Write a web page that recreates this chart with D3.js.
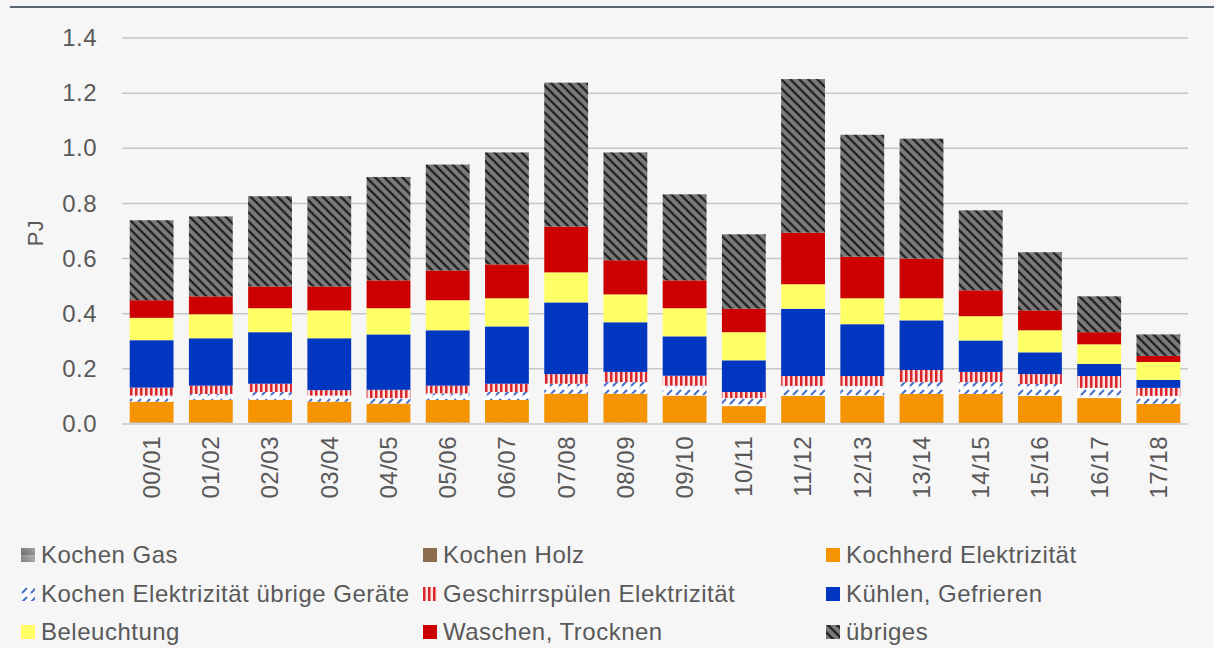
<!DOCTYPE html>
<html>
<head>
<meta charset="utf-8">
<script src="https://cdn.jsdelivr.net/npm/d3@7"></script>
<style>
  body { margin: 0; background: #f6f6f6; }
  text { font-family: "Liberation Sans", Arial, sans-serif; fill: #595959; letter-spacing: 0.5px; }
</style>
</head>
<body>
<div id="container"></div>
<script>
// Energieverbrauch Haushalt nach Verwendungszweck, PJ

var years = ['00/01','01/02','02/03','03/04','04/05','05/06','06/07','07/08','08/09',
             '09/10','10/11','11/12','12/13','13/14','14/15','15/16','16/17','17/18'];

var kochenGas      = [.006,.006,.006,.006,.006,.006,.006,.006,.006,0,0,0,0,0,0,0,0,0];
var kochenHolz     = [0,0,0,0,0,0,0,0,0,.006,0,.006,.006,.006,.006,.006,.006,0];
var kochherd       = [.075,.082,.082,.075,.068,.081,.081,.104,.104,.097,.065,.096,.096,.103,.103,.096,.088,.073];
var kochenUebrige  = [.022,.021,.028,.022,.020,.024,.029,.036,.042,.036,.029,.036,.036,.043,.043,.043,.037,.029];
var geschirr       = [.029,.030,.030,.020,.030,.028,.030,.035,.037,.036,.022,.036,.036,.044,.037,.036,.043,.029];
var kuehlen        = [.172,.172,.187,.188,.201,.201,.208,.260,.180,.143,.115,.244,.188,.180,.114,.079,.044,.029];
var beleuchtung    = [.081,.087,.087,.101,.095,.109,.102,.109,.101,.102,.102,.089,.094,.080,.088,.080,.071,.065];
var waschen        = [.064,.065,.079,.087,.101,.108,.123,.166,.124,.101,.085,.187,.151,.144,.094,.072,.044,.022];
var uebriges       = [.290,.290,.327,.327,.375,.384,.406,.522,.391,.312,.270,.557,.442,.435,.290,.211,.130,.078];

var yTicks = [0, 0.2, 0.4, 0.6, 0.8, 1.0, 1.2, 1.4];

var series = [
  {key: 'gas',   name: 'Kochen Gas',                          values: kochenGas,     fill: 'url(#gas)'},
  {key: 'holz',  name: 'Kochen Holz',                         values: kochenHolz,    fill: '#8c6c4c'},
  {key: 'herd',  name: 'Kochherd Elektrizität',               values: kochherd,      fill: '#f59300'},
  {key: 'kueb',  name: 'Kochen Elektrizität übrige Geräte',   values: kochenUebrige, fill: 'url(#hatchBlue)'},
  {key: 'gesch', name: 'Geschirrspülen Elektrizität',         values: geschirr,      fill: 'url(#stripesRed)'},
  {key: 'kuehl', name: 'Kühlen, Gefrieren',                   values: kuehlen,       fill: '#0036c0'},
  {key: 'bel',   name: 'Beleuchtung',                         values: beleuchtung,   fill: '#ffff66'},
  {key: 'wasch', name: 'Waschen, Trocknen',                   values: waschen,       fill: '#cc0000'},
  {key: 'ueb',   name: 'übriges',                             values: uebriges,      fill: 'url(#hatchGray)'}
];

var width = 1214, height = 648;

// table for d3.stack
var table = years.map(function(y, i) {
  var row = {year: y};
  series.forEach(function(s) { row[s.key] = s.values[i]; });
  return row;
});

var svg = d3.select('#container').append('svg')
  .attr('width', width)
  .attr('height', height);

svg.append('rect').attr('width', width).attr('height', height).attr('fill', '#f6f6f6');

// patterns
var defs = svg.append('defs');

var gasGrad = defs.append('linearGradient').attr('id', 'gasGrad')
  .attr('x1', 0).attr('y1', 1).attr('x2', 1).attr('y2', 0);
gasGrad.append('stop').attr('offset', 0).attr('stop-color', '#6e6e6e');
gasGrad.append('stop').attr('offset', 1).attr('stop-color', '#b4b4b4');

var gas = defs.append('pattern').attr('id', 'gas')
  .attr('patternUnits', 'userSpaceOnUse').attr('width', 14).attr('height', 14);
gas.append('rect').attr('width', 14).attr('height', 14).attr('fill', 'url(#gasGrad)');

var hb = defs.append('pattern').attr('id', 'hatchBlue')
  .attr('patternUnits', 'userSpaceOnUse').attr('width', 9).attr('height', 9);
hb.append('rect').attr('width', 9).attr('height', 9).attr('fill', '#ffffff');
hb.append('path').attr('d', 'M1,8 L6,3 M-2,2 L0,0 M8,11 L10,9')
  .attr('stroke', '#4a72c8').attr('stroke-width', 2.2);

var sr = defs.append('pattern').attr('id', 'stripesRed')
  .attr('patternUnits', 'userSpaceOnUse').attr('width', 5).attr('height', 5);
sr.append('rect').attr('width', 5).attr('height', 5).attr('fill', '#fbe3e3');
sr.append('rect').attr('x', 0).attr('width', 2.5).attr('height', 5).attr('fill', '#d9262b');

var hg = defs.append('pattern').attr('id', 'hatchGray')
  .attr('patternUnits', 'userSpaceOnUse').attr('width', 9).attr('height', 9);
hg.append('rect').attr('width', 9).attr('height', 9).attr('fill', '#7a7a7a');
hg.append('path').attr('d', 'M0,0 L9,9 M-4.5,4.5 L4.5,13.5 M4.5,-4.5 L13.5,4.5')
  .attr('stroke', '#262626').attr('stroke-width', 2.4);

// top border line
svg.append('line')
  .attr('x1', 10).attr('x2', width).attr('y1', 7).attr('y2', 7)
  .attr('stroke', '#5c6670').attr('stroke-width', 2);

// scales
var x = d3.scaleBand()
  .domain(years)
  .range([122, 1188])
  .paddingInner(0.26)
  .paddingOuter(0.13);

var y = d3.scaleLinear()
  .domain([0, 1.4])
  .range([424, 38]);

// gridlines
svg.append('g')
  .selectAll('line')
  .data(yTicks.slice(1))
  .enter().append('line')
  .attr('x1', 122).attr('x2', 1188)
  .attr('y1', function(d) { return y(d); })
  .attr('y2', function(d) { return y(d); })
  .attr('stroke', '#c3c6ca')
  .attr('stroke-width', 1.5);

// y axis
var yAxis = d3.axisLeft(y).tickValues(yTicks).tickFormat(d3.format('.1f')).tickSize(0).tickPadding(0);
var yg = svg.append('g')
  .attr('transform', 'translate(97,0)')
  .call(yAxis);
yg.select('.domain').remove();
yg.selectAll('text')
  .attr('font-family', null)
  .attr('font-size', 24)
  .attr('fill', '#595959');

svg.append('text')
  .attr('transform', 'translate(43,233) rotate(-90)')
  .attr('text-anchor', 'middle')
  .attr('font-size', 22)
  .text('PJ');

// stacked bars
var stack = d3.stack().keys(series.map(function(s) { return s.key; }));
var layers = stack(table);

svg.append('g')
  .selectAll('g')
  .data(layers)
  .enter().append('g')
  .attr('fill', function(d, i) { return series[i].fill; })
  .selectAll('rect')
  .data(function(d) { return d; })
  .enter().append('rect')
  .attr('x', function(d) { return x(d.data.year); })
  .attr('y', function(d) { return y(d[1]); })
  .attr('width', x.bandwidth())
  .attr('height', function(d) { return y(d[0]) - y(d[1]); });

// baseline
svg.append('line')
  .attr('x1', 122).attr('x2', 1188)
  .attr('y1', y(0)).attr('y2', y(0))
  .attr('stroke', '#d4d4d4')
  .attr('stroke-width', 2);

// x axis labels, rotated
var xAxis = d3.axisBottom(x).tickSize(0).tickPadding(0);
var xg = svg.append('g')
  .attr('transform', 'translate(0,' + (y(0) + 12) + ')')
  .call(xAxis);
xg.select('.domain').remove();
xg.selectAll('text')
  .attr('font-family', null)
  .attr('font-size', 24)
  .attr('fill', '#595959')
  .attr('transform', 'rotate(-90)')
  .attr('text-anchor', 'end')
  .attr('x', 0)
  .attr('y', 0)
  .attr('dy', '0.35em');

// legend
var legCols = [21, 423, 826];
var legRows = [555, 594, 632];
var legend = svg.append('g')
  .selectAll('g')
  .data(series)
  .enter().append('g')
  .attr('transform', function(d, i) {
    return 'translate(' + legCols[i % 3] + ',' + legRows[Math.floor(i / 3)] + ')';
  });

legend.append('rect')
  .attr('x', 0).attr('y', -7)
  .attr('width', 14).attr('height', 14)
  .attr('fill', function(d) { return d.fill; });

legend.append('text')
  .attr('x', 20)
  .attr('dy', '0.35em')
  .attr('font-size', 24)
  .text(function(d) { return d.name; });
</script>
</body>
</html>
